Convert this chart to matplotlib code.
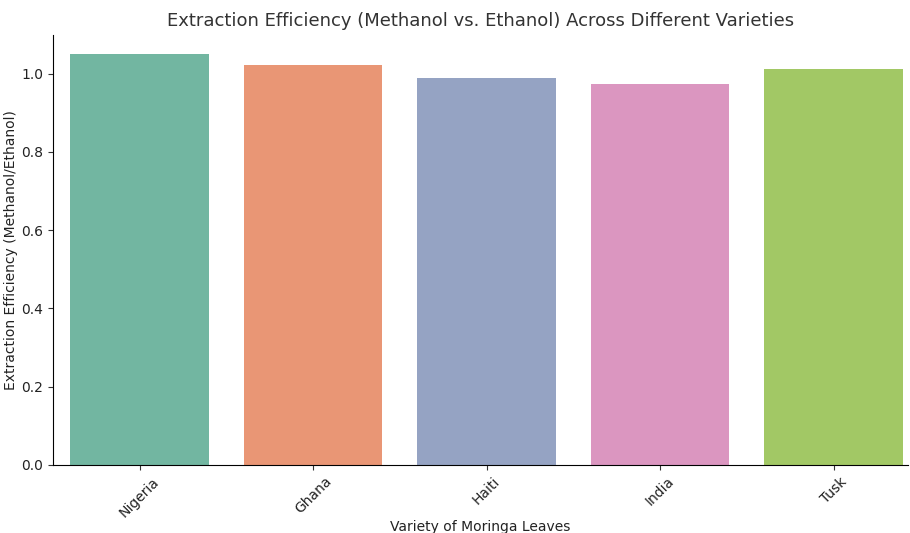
import matplotlib
matplotlib.use("Agg")
import matplotlib.pyplot as plt
import seaborn as sns

# Data
varieties = ["Nigeria", "Ghana", "Haiti", "India", "Tusk"]
efficiency = [1.050, 1.022, 0.988, 0.975, 1.011]

fig, ax = plt.subplots(figsize=(9.1, 5.33), dpi=100)
sns.barplot(x=varieties, y=efficiency, hue=varieties, palette="Set2",
            legend=False, ax=ax, saturation=0.75)

ax.set_title("Extraction Efficiency (Methanol vs. Ethanol) Across Different Varieties",
             fontsize=13, color="#333333")
ax.set_xlabel("Variety of Moringa Leaves", fontsize=10, labelpad=0, color="#222222")
ax.set_ylabel("Extraction Efficiency (Methanol/Ethanol)", fontsize=10, labelpad=2,
              color="#222222")
ax.set_yticks([0.0, 0.2, 0.4, 0.6, 0.8, 1.0])
ax.set_ylim(0, 1.1)
ax.set_xlim(-0.5, 4.43)
ax.tick_params(colors="#333333", labelcolor="#222222")
plt.setp(ax.get_xticklabels(), rotation=45)
sns.despine(ax=ax)

fig.subplots_adjust(left=0.058, right=0.998, top=0.935, bottom=0.128)
fig.savefig("out.png")
